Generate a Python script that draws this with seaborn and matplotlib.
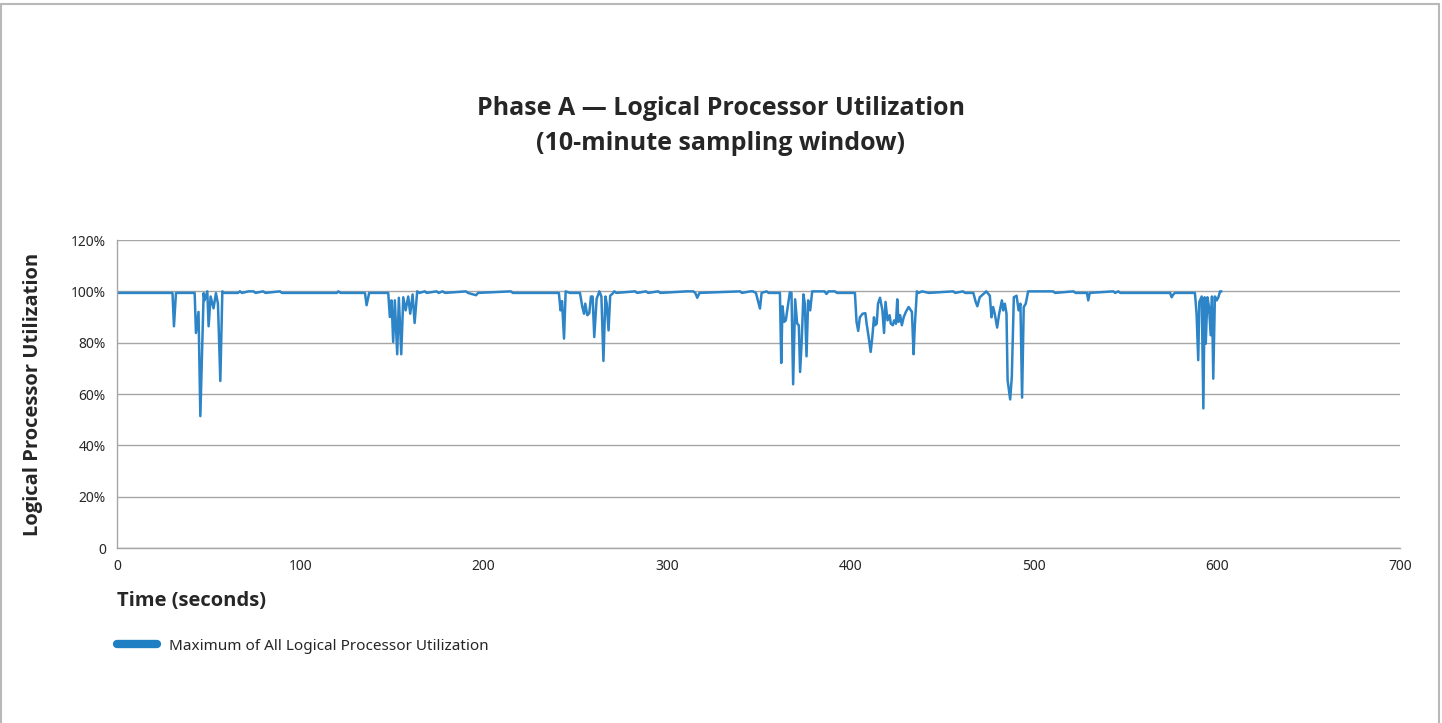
import pandas as pd
import matplotlib
matplotlib.use('Agg')
import matplotlib.pyplot as plt
from matplotlib.lines import Line2D
from matplotlib.ticker import FuncFormatter
import seaborn as sns

# values (time in s, utilization in %)
time_s = [
    0, 10, 20, 30.3, 31.1, 32.2, 42.4, 43.1, 44.5, 45.5, 47.3, 47.8, 49.3, 50.0, 51.1,
    52.7, 54.0, 55.1, 56.4, 57.5, 58.5, 66, 67.1, 68.2, 71.8, 74.5, 75.6, 79.8, 81,
    88.9, 90, 120, 120.8, 122, 135.3, 136.2, 137.6, 148.0, 148.9, 149.8, 150.7, 151.6,
    152.9, 153.8, 155.1, 156.2, 157.5, 158.9, 160.0, 161.3, 162.4, 163.8, 165, 168, 169,
    174.4, 175.5, 177.7, 179, 190.4, 191.5, 195.9, 197, 214.9, 216, 241.1, 242.0, 242.8,
    243.9, 244.8, 247.1, 252.6, 253.9, 254.8, 255.5, 256.6, 257.7, 258.6, 259.5, 260.4,
    261.7, 263.2, 264.3, 265.4, 266.5, 267.2, 268.2, 269.1, 270.5, 271.3, 272.5, 282.6,
    283.8, 288.6, 289.8, 295.3, 296.5, 310.8, 314.4, 315.5, 316.6, 317.8, 339.9, 341,
    345.5, 347, 348.6, 350.8, 351.7, 354.4, 355.5, 361.7, 362.4, 363.1, 364.0, 364.9,
    367.1, 368.0, 368.9, 370.0, 371.1, 372.0, 372.7, 373.6, 374.5, 375.3, 376.2, 377.1,
    378.2, 379.3, 386, 387.1, 388.2, 391.7, 392.8, 402.6, 403.5, 404.4, 405.3, 406.8,
    408.3, 409.0, 410.1, 411.2, 412.1, 413.0, 413.6, 414.5, 415.2, 416.3, 417.6, 418.5,
    419.3, 420.4, 421.5, 422.2, 423.3, 424.0, 425.0, 425.7, 426.4, 427.3, 428.2, 429.2,
    430.4, 431.9, 433.7, 434.6, 435.3, 436.4, 437.3, 439.2, 441.9, 443, 456.2, 457.3,
    461.6, 462.7, 467.2, 468.5, 469.4, 470.7, 474.3, 476.2, 477.1, 478.0, 478.9, 480.2,
    481.3, 482.8, 483.5, 484.4, 485.3, 485.9, 487.3, 488.2, 489.3, 490.8, 491.9, 492.9,
    493.8, 494.7, 495.8, 497.1, 510.7, 511.8, 521.8, 523, 529.2, 529.9, 530.7, 543.6,
    544.6, 546.3, 547.4, 574.6, 575.4, 576.3, 577.2, 588.1, 589.0, 589.9, 590.5, 591.8,
    592.7, 593.4, 594.0, 594.9, 595.8, 596.7, 597.4, 598.1, 599.0, 600.0, 600.9, 601.8,
    602.6,
]
util_pct = [
    99.4, 99.4, 99.4, 99.4, 86.4, 99.4, 99.4, 83.8, 92.0, 51.4, 99.3, 96.5, 100, 86.4, 98.0,
    93.4, 99.3, 95.2, 65.1, 100, 99.4, 99.4, 100, 99.4, 100, 100, 99.4, 100, 99.4,
    100, 99.4, 99.4, 100, 99.4, 99.4, 94.6, 99.4, 99.4, 90.0, 96.5, 80.3, 96.5,
    75.5, 97.5, 75.5, 97.7, 92.6, 98.0, 91.3, 98.8, 87.7, 100, 99.4, 100, 99.4,
    100, 99.4, 100, 99.4, 100, 99.4, 98.5, 99.4, 100, 99.4, 99.4, 92.6, 96.2,
    81.6, 100, 99.4, 99.4, 93.9, 91.3, 95.2, 90.7, 91.5, 98.0, 98.0, 82.2,
    97.1, 100, 98.0, 72.9, 98.0, 95.2, 84.8, 98.3, 99.2, 100, 99.4, 100,
    99.4, 100, 99.4, 100, 99.4, 100, 100, 99.4, 97.5, 99.4, 100, 99.4,
    100, 100, 99.4, 93.3, 99.4, 100, 99.4, 99.4, 72.1, 94.2, 88.1, 88.7,
    99.6, 99.4, 63.8, 96.9, 87.4, 86.8, 68.6, 80.9, 98.8, 95.2, 74.7, 96.5,
    92.6, 100, 100, 99.0, 100, 100, 99.4, 99.4, 88.1, 84.6, 89.9, 91.3,
    91.5, 87.4, 82.2, 76.4, 82.2, 89.9, 86.8, 87.4, 95.2, 97.5, 92.6, 83.8,
    95.9, 88.7, 90.7, 87.4, 86.8, 88.7, 87.4, 96.9, 88.1, 90.7, 86.8, 89.9,
    92.0, 93.9, 92.0, 75.5, 86.8, 100, 99.4, 100, 99.6, 99.4, 100, 99.4,
    100, 99.4, 99.4, 95.9, 94.2, 97.7, 100, 98.3, 89.9, 93.9, 91.3, 85.9,
    91.3, 96.5, 92.6, 95.2, 91.3, 65.4, 57.9, 66.7, 97.7, 98.3, 92.6, 95.2,
    58.6, 93.9, 95.2, 100, 100, 99.4, 100, 99.4, 99.4, 96.5, 99.4, 100,
    99.4, 100, 99.4, 99.4, 97.7, 98.8, 99.4, 99.4, 91.3, 73.2, 95.9, 98.0,
    54.4, 97.7, 79.6, 97.7, 93.9, 82.9, 98.0, 66.0, 98.0, 96.5, 97.7, 100,
    100,
]
x_ticks = [0, 100, 200, 300, 400, 500, 600, 700]
y_ticks = [0, 20, 40, 60, 80, 100, 120]
series_name = 'Maximum of All Logical Processor Utilization'

df = pd.DataFrame({'Time': time_s, 'Util': util_pct})

sns.set_style('white')
plt.rcParams['font.family'] = ['Noto Sans', 'DejaVu Sans']
bold_font = ['Open Sans', 'DejaVu Sans']

line_color = '#2d84c6'
grid_color = '#a6a6a6'
text_color = '#262626'

fig = plt.figure(figsize=(14.42, 7.23), dpi=100)
ax = fig.add_axes([0.0811, 0.2420, 0.8898, 0.4260])

sns.lineplot(data=df, x='Time', y='Util', color=line_color, linewidth=1.8,
             label=series_name, ax=ax)

ax.set_xlim(0, 700)
ax.set_ylim(0, 120)
ax.set_xticks(x_ticks)
ax.set_yticks(y_ticks)
ax.yaxis.set_major_formatter(FuncFormatter(lambda v, p: '0' if v == 0 else f'{int(v)}%'))
ax.grid(axis='y', color=grid_color, linewidth=1.0)
ax.set_axisbelow(True)
for side in ['top', 'right']:
    ax.spines[side].set_visible(False)
for side in ['left', 'bottom']:
    ax.spines[side].set_color(grid_color)
    ax.spines[side].set_linewidth(1.0)
ax.tick_params(axis='both', length=4, width=1, color=grid_color, labelsize=10,
               labelcolor=text_color, pad=4)

ax.set_ylabel('Logical Processor Utilization', fontsize=14.5, fontweight='bold',
              family=bold_font, color=text_color)
ax.yaxis.set_label_coords(-0.058, 0.5)
ax.set_xlabel('Time (seconds)', fontsize=14.5, fontweight='bold', family=bold_font,
              color=text_color, loc='left')
ax.xaxis.set_label_coords(0.0, -0.14)

fig.suptitle('Phase A \u2014 Logical Processor Utilization\n(10-minute sampling window)',
             x=0.5, y=0.826, va='center', fontsize=18, fontweight='bold',
             family=bold_font, color=text_color, linespacing=1.5)

handle = Line2D([], [], color='#1f7fc3', linewidth=6, solid_capstyle='round')
ax.legend([handle], [series_name], loc='center left', frameon=False,
          bbox_to_anchor=(0.0811, 0.1065), bbox_transform=fig.transFigure,
          borderpad=0, borderaxespad=0, handlelength=2.6, handletextpad=0.8,
          fontsize=11, labelcolor=text_color)

# light frame round the figure (left, top, right)
border = '#b8b8b8'
fig.add_artist(Line2D([0.001, 0.001], [0, 0.995], transform=fig.transFigure, color=border, linewidth=1.5))
fig.add_artist(Line2D([0.001, 0.998], [0.995, 0.995], transform=fig.transFigure, color=border, linewidth=1.5))
fig.add_artist(Line2D([0.998, 0.998], [0, 0.995], transform=fig.transFigure, color=border, linewidth=1.5))

fig.savefig('out.png', dpi=100)
